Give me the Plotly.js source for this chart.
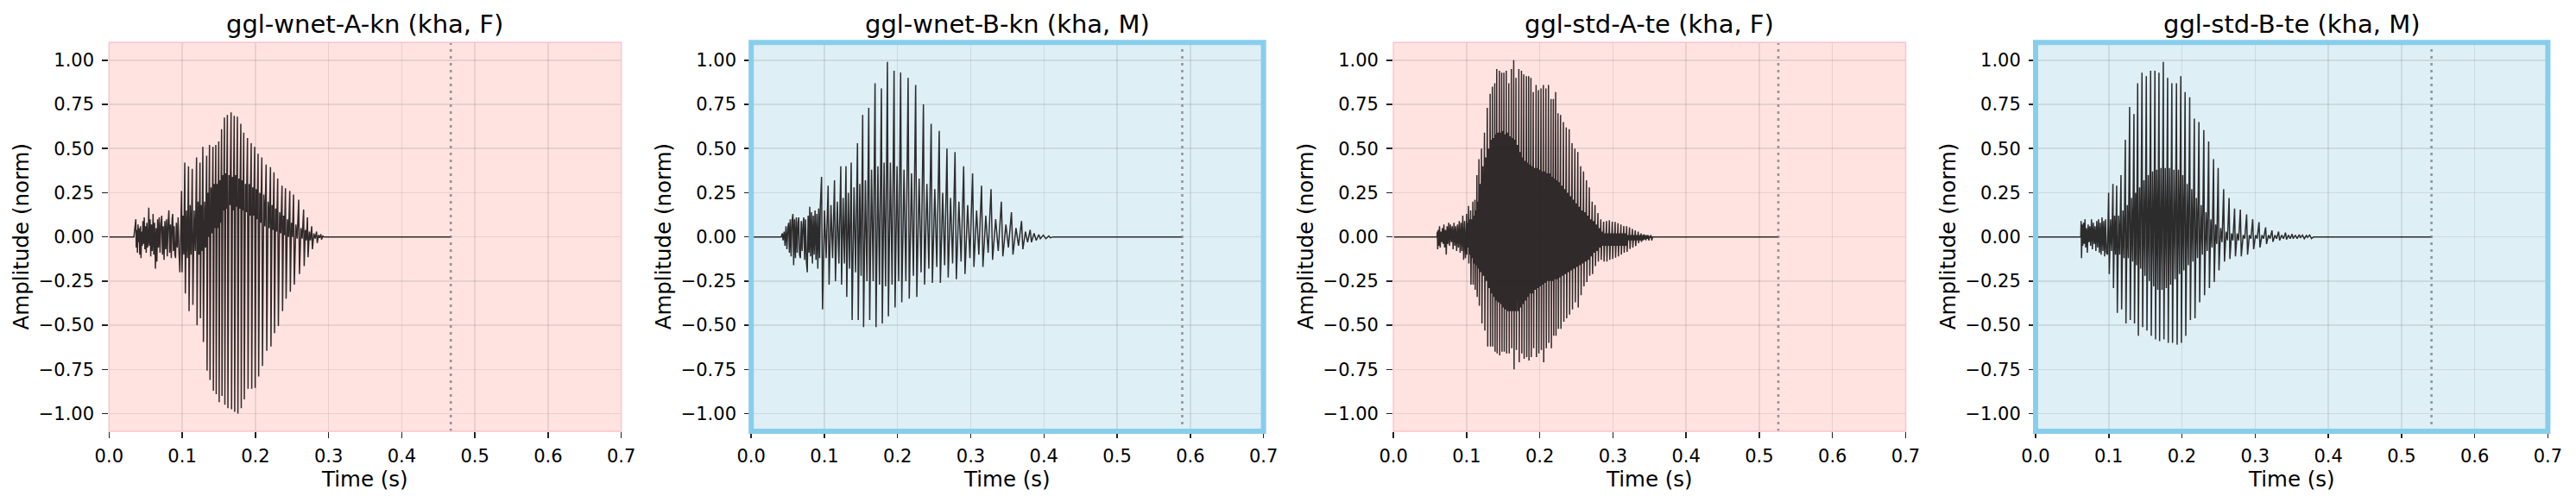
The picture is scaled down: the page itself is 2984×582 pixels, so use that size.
<!DOCTYPE html>
<html><head><meta charset="utf-8">
<script src="https://cdn.plot.ly/plotly-3.0.1.min.js"></script>
<style>html,body{margin:0;padding:0;background:#fff}#chart{width:2984px;height:582px}</style>
</head><body><div id="chart"></div>
<script>
// ---------- data ----------
const panel_titles = ["ggl-wnet-A-kn (kha, F)", "ggl-wnet-B-kn (kha, M)", "ggl-std-A-te (kha, F)", "ggl-std-B-te (kha, M)"];
const panel_kind = ["F", "M", "F", "M"];
const x_tick_vals = [0.0, 0.1, 0.2, 0.3, 0.4, 0.5, 0.6, 0.7];
const y_tick_vals = [-1.0, -0.75, -0.5, -0.25, 0.0, 0.25, 0.5, 0.75, 1.0];
const x_label = "Time (s)";
const y_label = "Amplitude (norm)";
const end_times = [0.467, 0.589, 0.526, 0.541];

// Panel 1: ggl-wnet-A-kn
const p1_noise_t = [0.0340,0.0366,0.0372,0.0380,0.0388,0.0396,0.0404,0.0412,0.0420,0.0430,0.0437,0.0446,0.0455,0.0463,0.0472,0.0481,0.0490,0.0499,0.0508,0.0517,0.0526,0.0535,0.0543,0.0552,0.0561,0.0570,0.0580,0.0590,0.0602,0.0612,0.0622,0.0634,0.0644,0.0654,0.0664,0.0675,0.0686,0.0697,0.0708,0.0720,0.0730,0.0741,0.0752,0.0763,0.0774,0.0785,0.0796,0.0807,0.0818,0.0829,0.0840,0.0851,0.0862,0.0870,0.0880,0.0890,0.0900,0.0909,0.0920,0.0932,0.0944,0.0956,0.0968];
const p1_noise_v = [0.00,0.10,-0.06,0.04,-0.09,0.07,-0.03,0.05,-0.10,0.06,-0.12,0.03,-0.05,0.09,-0.04,0.11,-0.07,0.06,-0.09,0.08,-0.06,-0.02,0.165,-0.05,0.10,-0.11,0.07,-0.08,0.13,-0.10,0.08,-0.18,0.05,-0.14,0.10,-0.06,0.11,-0.09,0.07,0.12,-0.10,0.06,-0.13,0.09,-0.07,0.10,-0.11,0.08,0.15,-0.09,0.07,-0.12,0.10,0.13,-0.08,0.06,-0.10,-0.12,0.08,-0.06,0.11,-0.09,-0.20];
const p1_cyc_t = [0.0991,0.1035,0.1086,0.1137,0.1196,0.1243,0.1282,0.1334,0.1373,0.1420,0.1459,0.1499,0.1538,0.1577,0.1617,0.1668,0.1711,0.1754,0.1801,0.1841,0.1892,0.1943,0.1990,0.2037,0.2088,0.2147,0.2206,0.2254,0.2305,0.2364,0.2411,0.2470,0.2521,0.2592,0.2659,0.2711,0.2769,0.2836,0.2895];
const p1_hi = [0.26,0.42,0.40,0.385,0.45,0.42,0.51,0.46,0.52,0.51,0.52,0.54,0.61,0.675,0.69,0.705,0.685,0.68,0.64,0.59,0.56,0.53,0.51,0.47,0.45,0.41,0.395,0.365,0.33,0.29,0.275,0.26,0.24,0.21,0.155,0.11,0.06,0.03,0.015];
const p1_lo = [-0.20,-0.32,-0.42,-0.385,-0.50,-0.46,-0.595,-0.757,-0.81,-0.87,-0.89,-0.935,-0.90,-0.95,-0.97,-0.975,-0.99,-1.00,-0.97,-0.92,-0.86,-0.86,-0.855,-0.79,-0.73,-0.645,-0.62,-0.545,-0.505,-0.42,-0.35,-0.31,-0.27,-0.21,-0.165,-0.115,-0.07,-0.035,-0.015];
const p1_core_hi = [0.12,0.15,0.18,0.15,0.2,0.18,0.2, 0.25,0.28,0.3,0.3,0.32, 0.35,0.36,0.35,0.34,0.35,0.33,0.32,0.3,0.3,0.28, 0.27,0.25,0.24,0.2,0.18,0.16, 0.14,0.12,0.1,0.08,0.07,0.05, 0.04,0.03,0.02,0.01,0.005];
const p1_core_lo = [-0.1,-0.12,-0.1,-0.08,-0.1,-0.08,-0.06, 0.0,0.02,0.05,0.05,0.08, 0.15,0.16,0.18,0.15,0.17,0.16,0.15,0.14,0.12,0.12, 0.1,0.08,0.06,0.05,0.04,0.03, 0.02,0.01,0.0,0.0,-0.01,-0.01, -0.02,-0.02,-0.01,-0.005,0.0];

// Panel 2: ggl-wnet-B-kn
const p2_noise_t = [0.0410,0.0425,0.0435,0.0450,0.0462,0.0475,0.0488,0.0500,0.0511,0.0522,0.0533,0.0545,0.0557,0.0570,0.0580,0.0592,0.0604,0.0616,0.0628,0.0640,0.0649,0.0660,0.0672,0.0684,0.0696,0.0708,0.0718,0.0730,0.0742,0.0754,0.0766,0.0778,0.0790,0.0800,0.0812,0.0824,0.0836,0.0848,0.0860,0.0872,0.0885,0.0897,0.0910,0.0922,0.0934,0.0944];
const p2_noise_v = [0.00,0.02,-0.02,0.03,-0.05,0.06,-0.07,0.05,0.08,-0.09,0.10,-0.11,0.09,0.13,-0.16,0.10,-0.12,0.11,-0.09,0.08,0.11,-0.10,-0.12,0.09,-0.08,0.07,0.11,-0.13,0.10,-0.14,-0.20,0.12,-0.09,0.17,-0.11,0.14,-0.15,0.12,-0.10,0.15,-0.13,0.13,-0.18,0.16,-0.12,0.17];
const p2_cyc_t = [0.0961,0.1051,0.1138,0.1224,0.1295,0.1366,0.1452,0.1523,0.1606,0.1692,0.1779,0.1861,0.1952,0.2042,0.2144,0.2247,0.2353,0.2459,0.2569,0.2675,0.2785,0.2903,0.3025,0.3147,0.3277,0.3418,0.3556,0.3694,0.3812,0.3930,0.4067];
const p2_hi = [0.34,0.29,0.32,0.40,0.40,0.42,0.53,0.69,0.73,0.87,0.84,0.99,0.94,0.93,0.90,0.86,0.75,0.64,0.60,0.50,0.48,0.40,0.36,0.29,0.27,0.20,0.14,0.09,0.04,0.013,0.005];
const p2_lo = [-0.41,-0.27,-0.25,-0.27,-0.34,-0.47,-0.47,-0.51,-0.47,-0.51,-0.49,-0.45,-0.40,-0.37,-0.35,-0.34,-0.27,-0.26,-0.26,-0.23,-0.24,-0.21,-0.17,-0.17,-0.13,-0.11,-0.10,-0.07,-0.03,-0.01,-0.005];
const p2_core_hi = [0.15,0.18,0.2,0.22,0.25, 0.28,0.3,0.32, 0.38,0.4,0.42,0.42,0.4,0.38,0.36,0.33, 0.3,0.27,0.25,0.22,0.2,0.18, 0.15,0.12,0.1,0.07,0.05,0.03, 0.02,0.01,0.0];
const p2_core_lo = [-0.12,-0.12,-0.15,-0.15,-0.18, -0.2,-0.22,-0.25, -0.25,-0.27,-0.28,-0.27,-0.25,-0.25,-0.22,-0.2, -0.18,-0.17,-0.16,-0.15,-0.14,-0.12, -0.1,-0.09,-0.08,-0.06,-0.05,-0.03, -0.02,-0.01,0.0];

// Panel 3: ggl-std-A-te
const p3_noise_t = [0.0595,0.0600,0.0605,0.0612,0.0620,0.0630,0.0640,0.0650,0.0660,0.0670,0.0680,0.0690,0.0700,0.0712,0.0722,0.0733,0.0745,0.0756,0.0768,0.0780,0.0792,0.0804,0.0816,0.0828,0.0840,0.0852,0.0864,0.0876,0.0888,0.0900,0.0912,0.0924,0.0936,0.0948,0.0960,0.0972,0.0984];
const p3_noise_v = [0.00,0.03,-0.07,0.04,-0.05,0.06,-0.06,0.03,-0.03,0.05,-0.04,0.07,-0.06,0.04,-0.10,0.06,-0.04,0.08,-0.05,0.07,-0.03,0.06,-0.07,0.08,-0.05,0.06,-0.08,0.07,-0.06,0.09,-0.09,0.08,-0.08,0.12,-0.13,0.09,-0.12];
const p3_cyc_t = [0.1000,0.1027,0.1055,0.1086,0.1114,0.1141,0.1169,0.1204,0.1244,0.1283,0.1322,0.1353,0.1385,0.1412,0.1448,0.1479,0.1510,0.1542,0.1577,0.1612,0.1644,0.1675,0.1714,0.1750,0.1781,0.1817,0.1848,0.1879,0.1911,0.1950,0.1982,0.2017,0.2049,0.2084,0.2119,0.2154,0.2186,0.2217,0.2249,0.2284,0.2323,0.2362,0.2402,0.2441,0.2480,0.2520,0.2559,0.2598,0.2638,0.2677,0.2716,0.2755,0.2795,0.2834,0.2873,0.2912,0.2951,0.2991,0.3030,0.3069,0.3109,0.3148,0.3187,0.3227,0.3266,0.3305,0.3345,0.3384,0.3423,0.3462,0.3502];
const p3_hi = [0.13,0.175,0.15,0.20,0.21,0.35,0.44,0.50,0.59,0.73,0.81,0.85,0.87,0.95,0.94,0.93,0.93,0.94,0.87,0.95,1.00,0.90,0.95,0.94,0.92,0.91,0.91,0.90,0.82,0.86,0.83,0.84,0.86,0.84,0.86,0.78,0.78,0.82,0.70,0.69,0.65,0.62,0.61,0.53,0.50,0.48,0.40,0.37,0.32,0.28,0.20,0.18,0.135,0.10,0.086,0.09,0.094,0.086,0.085,0.078,0.07,0.062,0.06,0.054,0.045,0.037,0.03,0.02,0.015,0.01,0.005];
const p3_lo = [-0.10,-0.15,-0.27,-0.27,-0.30,-0.34,-0.39,-0.49,-0.53,-0.62,-0.62,-0.62,-0.65,-0.66,-0.67,-0.65,-0.65,-0.66,-0.66,-0.63,-0.75,-0.64,-0.71,-0.66,-0.69,-0.68,-0.70,-0.68,-0.63,-0.68,-0.66,-0.64,-0.71,-0.63,-0.60,-0.63,-0.56,-0.56,-0.52,-0.52,-0.48,-0.46,-0.44,-0.41,-0.37,-0.40,-0.33,-0.28,-0.255,-0.22,-0.21,-0.165,-0.14,-0.13,-0.14,-0.14,-0.13,-0.125,-0.117,-0.11,-0.10,-0.09,-0.085,-0.068,-0.06,-0.052,-0.036,-0.028,-0.015,-0.01,-0.005];
const p3_core_hi = [0.08,0.1,0.1,0.12,0.15,0.2, 0.3,0.4,0.45, 0.5,0.55,0.56,0.58,0.59,0.59,0.6,0.58,0.59,0.57,0.56,0.55, 0.52,0.48,0.45,0.43,0.42,0.41,0.4, 0.39,0.39,0.38,0.37,0.37,0.36,0.36, 0.34,0.33,0.32,0.31,0.29,0.27,0.25,0.23, 0.21,0.19,0.17,0.15,0.14,0.12,0.1, 0.09,0.07,0.05,0.03, 0.02,0.02,0.02,0.02,0.02,0.02,0.02,0.02, 0.01,0.01,0.01,0.01,0.01,0.01,0.01,0.01,0.01];
const p3_core_lo = [-0.06,-0.1,-0.12,-0.15,-0.16,-0.18, -0.2,-0.22,-0.25, -0.29,-0.32,-0.34,-0.36,-0.37,-0.38,-0.4,-0.41,-0.42,-0.42,-0.42,-0.42, -0.42,-0.4,-0.38,-0.36,-0.34,-0.32,-0.32, -0.3,-0.29,-0.28,-0.27,-0.26,-0.25,-0.25, -0.25,-0.24,-0.24,-0.23,-0.22,-0.21,-0.2,-0.19, -0.18,-0.17,-0.16,-0.15,-0.14,-0.13,-0.11, -0.09,-0.08,-0.06,-0.05, -0.05,-0.05,-0.05,-0.05,-0.05,-0.05,-0.05,-0.05, -0.02,-0.02,-0.02,-0.02,-0.02,-0.02,-0.02,-0.02,-0.02];

// Panel 4: ggl-std-B-te
const p4_noise_t = [0.0617,0.0622,0.0628,0.0636,0.0645,0.0655,0.0665,0.0675,0.0685,0.0696,0.0707,0.0718,0.0729,0.0740,0.0752,0.0764,0.0776,0.0788,0.0800,0.0812,0.0824,0.0836,0.0848,0.0860,0.0872,0.0884,0.0896,0.0908,0.0920,0.0932,0.0944,0.0956,0.0968,0.0982];
const p4_noise_v = [0.00,0.09,-0.12,0.07,-0.05,0.08,-0.04,0.10,-0.06,0.05,-0.09,0.07,-0.03,0.06,-0.05,0.10,-0.07,0.08,-0.04,0.06,-0.08,0.09,-0.06,0.10,-0.09,0.08,-0.10,0.11,-0.08,0.09,-0.11,0.10,-0.09,-0.10];
const p4_cyc_t = [0.0998,0.1057,0.1108,0.1167,0.1226,0.1285,0.1344,0.1395,0.1454,0.1513,0.1572,0.1631,0.1686,0.1745,0.1804,0.1862,0.1925,0.1984,0.2043,0.2106,0.2169,0.2232,0.2299,0.2365,0.2432,0.2495,0.2570,0.2644,0.2719,0.2798,0.2884,0.2967,0.3053,0.3143,0.3230,0.3320,0.3415,0.3505,0.3603,0.3701];
const p4_hi = [0.25,0.30,0.29,0.35,0.55,0.735,0.695,0.87,0.93,0.91,0.94,0.94,0.93,0.99,0.90,0.87,0.87,0.91,0.82,0.79,0.67,0.65,0.605,0.54,0.44,0.39,0.27,0.22,0.16,0.154,0.127,0.10,0.083,0.054,0.037,0.03,0.024,0.016,0.013,0.008];
const p4_lo = [-0.21,-0.29,-0.43,-0.41,-0.49,-0.47,-0.49,-0.56,-0.51,-0.53,-0.56,-0.58,-0.59,-0.58,-0.60,-0.60,-0.61,-0.60,-0.56,-0.47,-0.46,-0.37,-0.33,-0.29,-0.255,-0.19,-0.14,-0.125,-0.11,-0.11,-0.10,-0.07,-0.06,-0.04,-0.028,-0.02,-0.015,-0.01,-0.005,-0.003];
const p4_core_hi = [0.1,0.12,0.12,0.15, 0.18,0.22,0.25,0.28, 0.32,0.35,0.37,0.38,0.39,0.39, 0.39,0.38,0.38,0.35,0.3, 0.27,0.22,0.18,0.14,0.1,0.07, 0.05,0.03,0.02,0.02, 0.01,0.01,0.01,0.01,0.01,0.01,0.01,0.01,0.01,0.01,0.01];
const p4_core_lo = [-0.08,-0.1,-0.1,-0.12, -0.12,-0.14,-0.16,-0.18, -0.22,-0.25,-0.28,-0.3,-0.3,-0.29, -0.27,-0.24,-0.21,-0.19,-0.16, -0.14,-0.12,-0.1,-0.08,-0.06,-0.04, -0.03,-0.02,-0.02,-0.02, -0.01,-0.01,-0.01,-0.01,-0.01,-0.01,-0.01,-0.01,-0.01,-0.01,-0.01];

// ---------- build the traces ----------
function buildWave(nt, nv, ct, hi, lo, ch, cl, tEnd) {
  const x = [0], y = [0];
  for (let i = 0; i < nt.length; i++) { x.push(nt[i]); y.push(nv[i]); }
  const n = ct.length;
  for (let i = 0; i < n; i++) {
    const T = i < n - 1 ? ct[i + 1] - ct[i] : ct[i] - ct[i - 1];
    const t = ct[i];
    x.push(t, t + 0.15 * T, t + 0.45 * T, t + 0.7 * T);
    y.push(hi[i], lo[i], ch[i], cl[i]);
  }
  const last = ct[n - 1] + (ct[n - 1] - ct[n - 2]);
  x.push(last, tEnd); y.push(0, 0);
  return {x, y};
}
const waves = [
  buildWave(p1_noise_t, p1_noise_v, p1_cyc_t, p1_hi, p1_lo, p1_core_hi, p1_core_lo, end_times[0]),
  buildWave(p2_noise_t, p2_noise_v, p2_cyc_t, p2_hi, p2_lo, p2_core_hi, p2_core_lo, end_times[1]),
  buildWave(p3_noise_t, p3_noise_v, p3_cyc_t, p3_hi, p3_lo, p3_core_hi, p3_core_lo, end_times[2]),
  buildWave(p4_noise_t, p4_noise_v, p4_cyc_t, p4_hi, p4_lo, p4_core_hi, p4_core_lo, end_times[3])
];

// ---------- layout ----------
const W = 2984, H = 582;
const FONT = 'DejaVu Sans, Liberation Sans, sans-serif';
const lefts = [126.3, 870.2, 1614.1, 2358.0];
const plotW = 593.4;
const yDom = [1 - 500 / H, 1 - 49.3 / H];
const style = {
  F: {bg: '#ffe3e1', border: '#ffc0cb', bw: 1.4},
  M: {bg: '#dfeff6', border: '#87ceeb', bw: 6}
};

const data = [], shapes = [], annotations = [];
const layout = {
  width: W, height: H, margin: {l: 0, r: 0, t: 0, b: 0},
  paper_bgcolor: '#ffffff', plot_bgcolor: 'rgba(0,0,0,0)',
  showlegend: false, font: {family: FONT, color: '#000'}
};

for (let k = 0; k < 4; k++) {
  const sfx = k === 0 ? '' : String(k + 1);
  const xa = 'x' + sfx, ya = 'y' + sfx;
  const dom = [lefts[k] / W, (lefts[k] + plotW) / W];
  layout['xaxis' + sfx] = {
    domain: dom, anchor: ya, range: [0, 0.7], tickvals: x_tick_vals, tickformat: '.1f',
    ticks: 'outside', ticklen: 7, tickwidth: 1.5, tickcolor: '#222',
    showgrid: true, gridcolor: 'rgba(120,120,120,0.18)', gridwidth: 1.5,
    zeroline: false, showline: false, automargin: false,
    tickfont: {family: FONT, size: 21, color: '#000'}, ticklabelstandoff: 3
  };
  layout['yaxis' + sfx] = {
    domain: yDom, anchor: xa, range: [-1.1, 1.1], tickvals: y_tick_vals, tickformat: '.2f',
    ticks: 'outside', ticklen: 7, tickwidth: 1.5, tickcolor: '#222',
    showgrid: true, gridcolor: 'rgba(120,120,120,0.18)', gridwidth: 1.5,
    zeroline: false, showline: false, automargin: false,
    tickfont: {family: FONT, size: 21, color: '#000'}, ticklabelstandoff: 5
  };
  const st = style[panel_kind[k]];
  shapes.push({type: 'rect', xref: xa + ' domain', yref: ya + ' domain', x0: 0, x1: 1, y0: 0, y1: 1,
    fillcolor: st.bg, line: {width: 0}, layer: 'below'});
  shapes.push({type: 'line', xref: xa, yref: ya + ' domain', x0: end_times[k], x1: end_times[k], y0: 0, y1: 1,
    line: {color: 'rgba(128,128,128,0.8)', width: 2.6, dash: '3px,5px'}, layer: 'above'});
  shapes.push({type: 'rect', xref: xa + ' domain', yref: ya + ' domain', x0: 0, x1: 1, y0: 0, y1: 1,
    fillcolor: 'rgba(0,0,0,0)', line: {color: st.border, width: st.bw}, layer: 'above'});
  // subplot title
  annotations.push({text: panel_titles[k], xref: 'paper', yref: 'paper',
    x: (dom[0] + dom[1]) / 2, y: 1 - 27.5 / H, xanchor: 'center', yanchor: 'middle',
    showarrow: false, font: {family: FONT, size: 29, color: '#000'}});
  // x axis title
  annotations.push({text: x_label, xref: 'paper', yref: 'paper',
    x: (dom[0] + dom[1]) / 2, y: 1 - 555 / H, xanchor: 'center', yanchor: 'middle',
    showarrow: false, font: {family: FONT, size: 24.5, color: '#000'}});
  // y axis title
  annotations.push({text: y_label, xref: 'paper', yref: 'paper', textangle: -90,
    x: (lefts[k] - 101.5) / W, y: (yDom[0] + yDom[1]) / 2, xanchor: 'center', yanchor: 'middle',
    showarrow: false, font: {family: FONT, size: 24.5, color: '#000'}});
  data.push({type: 'scatter', mode: 'lines', x: waves[k].x, y: waves[k].y, xaxis: xa, yaxis: ya,
    line: {color: 'rgba(25,22,22,0.9)', width: 1.5, simplify: false}, hoverinfo: 'skip'});
}
layout.shapes = shapes;
layout.annotations = annotations;

Plotly.newPlot('chart', data, layout, {staticPlot: true, displayModeBar: false});
</script></body></html>
